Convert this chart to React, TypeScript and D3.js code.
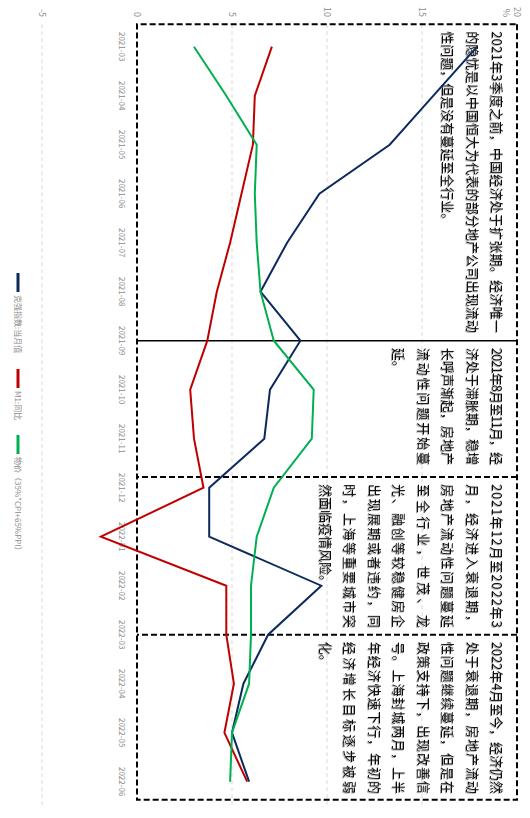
import React from 'react';
import * as d3 from 'd3';

// months on the (original) x axis
const months = [
  '2021-03', '2021-04', '2021-05', '2021-06', '2021-07', '2021-08', '2021-09', '2021-10',
  '2021-11', '2021-12', '2022-01', '2022-02', '2022-03', '2022-04', '2022-05', '2022-06',
];

// series values
const keqiang = [17.9, 15.6, 13.3, 9.6, 7.9, 6.5, 8.6, 7.0, 6.7, 3.8, 3.8, 9.7, 6.9, 5.6, 5.0, 5.9];
const m1 = [7.1, 6.2, 6.1, 5.5, 4.9, 4.2, 3.7, 2.8, 3.0, 3.5, -1.9, 4.7, 4.7, 5.1, 4.6, 5.8];
const price = [3.0, 4.7, 6.3, 6.2, 6.3, 6.5, 7.2, 9.3, 9.2, 7.2, 6.3, 6.0, 6.0, 5.9, 5.0, 4.9];

const seriesNames = ['克强指数:当月值', 'M1:同比', '物价（35%*CPI+65%PPI）'];
const seriesColors = ['#0b2a5e', '#c00000', '#00b050'];

const yTicks = [-5, 0, 5, 10, 15, 20];
const gridTicks = [-5, 5, 10, 15];

// annotation boxes, edges given in month-index units
const noteEdges = [-0.46, 6, 8.78, 12, 15.37];
const noteLines = [
  [
    '2021年3季度之前，中国经济处于扩张期。经济唯一',
    '的隐忧是以中国恒大为代表的部分地产公司出现流动',
    '性问题，但是没有蔓延至全行业。',
  ],
  [
    '2021年8月至11月，经',
    '济处于滞胀期，稳增',
    '长呼声渐起，房地产',
    '流动性问题开始蔓',
    '延。',
  ],
  [
    '2021年12月至2022年3',
    '月，经济进入衰退期，',
    '房地产流动性问题蔓延',
    '至全行业，世茂、龙',
    '光、融创等较稳健房企',
    '出现展期或者违约，同',
    '时，上海等重要城市突',
    '然面临疫情风险。',
  ],
  [
    '2022年4月至今，经济仍然',
    '处于衰退期，房地产流动',
    '性问题继续蔓延，但是在',
    '政策支持下，出现改善信',
    '号。上海封城两月，上半',
    '年经济快速下行，年初的',
    '经济增长目标逐步被弱',
    '化。',
  ],
];

// the chart is laid out landscape and turned a quarter clockwise
const W = 818;
const H = 530;
const FONT = '"Noto Sans CJK SC", "Noto Sans", sans-serif';

const App: React.FC = () => {
  const x = d3.scalePoint<string>().domain(months).range([46.7, 781.7]);
  const xi = d3.scaleLinear().domain([0, months.length - 1]).range([46.7, 781.7]);
  const y = d3.scaleLinear().domain([-5, 20]).range([488, 13]);

  const line = d3.line<number>()
    .x((_, i) => x(months[i]) as number)
    .y(d => y(d));

  const allSeries = [keqiang, m1, price];
  const boxLeft = xi(noteEdges[0]);
  const boxRight = xi(noteEdges[noteEdges.length - 1]);
  const rightPad = [8, 12, 7, 6];

  return (
    <svg width={H} height={W} style={{ position: 'absolute', left: 0, top: 0, background: '#fff' }}>
      <defs>
        <filter id="shadow" x="-10%" y="-10%" width="130%" height="160%">
          <feDropShadow dx="0.8" dy="1" stdDeviation="0.7" floodColor="#000" floodOpacity="0.35" />
        </filter>
      </defs>
      <g transform={`translate(${H},0) rotate(90)`}>
        {/* grid */}
        {gridTicks.map(t => (
          <line key={t} x1={boxLeft} x2={boxRight + 5} y1={y(t)} y2={y(t)}
            stroke="#d9d9d9" strokeWidth={1} strokeDasharray="4,3" />
        ))}

        {/* value labels */}
        {yTicks.map(t => (
          <text key={t} x={17} y={y(t) + 3} textAnchor="end" fontSize={9}
            fontFamily={FONT} fill="#8c8c8c">{t}</text>
        ))}
        <text x={17} y={y(20) + 14} textAnchor="end" fontSize={9} fontFamily={FONT} fill="#8c8c8c">%</text>

        {/* month labels */}
        {months.map(m => (
          <text key={m} x={x(m)} y={411} textAnchor="middle" fontSize={8}
            fontFamily={FONT} fill="#8c8c8c">{m}</text>
        ))}

        {/* annotation boxes */}
        <rect x={boxLeft} y={y(20)} width={boxRight - boxLeft} height={y(0) - y(20)}
          fill="none" stroke="#000" strokeWidth={2} strokeDasharray="6,3" />
        <line x1={xi(noteEdges[1])} x2={xi(noteEdges[1])} y1={y(20)} y2={y(0)}
          stroke="#000" strokeWidth={1.5} />
        {noteEdges.slice(2, 4).map(e => (
          <line key={e} x1={xi(e)} x2={xi(e)} y1={y(20)} y2={y(0)}
            stroke="#000" strokeWidth={2} strokeDasharray="6,3" />
        ))}
        {noteLines.map((lines, bi) => {
          const x0 = xi(noteEdges[bi]) + 7;
          const inner = xi(noteEdges[bi + 1]) - rightPad[bi] - x0;
          return (
            <g key={bi} filter="url(#shadow)">
              {lines.map((s, li) => {
                const justify = li < lines.length - 1;
                return (
                  <text key={li} x={x0} y={y(20) + 24.5 + li * 24.5}
                    fontSize={13} fontFamily={FONT} fill="#111"
                    textLength={justify ? inner : undefined}
                    lengthAdjust={justify ? 'spacing' : undefined}>{s}</text>
                );
              })}
            </g>
          );
        })}

        {/* series */}
        {allSeries.map((s, i) => (
          <path key={i} d={line(s) ?? ''} fill="none" stroke={seriesColors[i]}
            strokeWidth={2} strokeLinejoin="miter" />
        ))}

        {/* legend */}
        {seriesNames.map((n, i) => {
          const lx = [273, 369, 435][i];
          return (
            <g key={n}>
              <line x1={lx} x2={lx + 19} y1={512} y2={512} stroke={seriesColors[i]} strokeWidth={3} />
              <text x={lx + 22} y={515} fontSize={8} fontFamily={FONT} fill="#8c8c8c">{n}</text>
            </g>
          );
        })}
      </g>
    </svg>
  );
};

export default App;
